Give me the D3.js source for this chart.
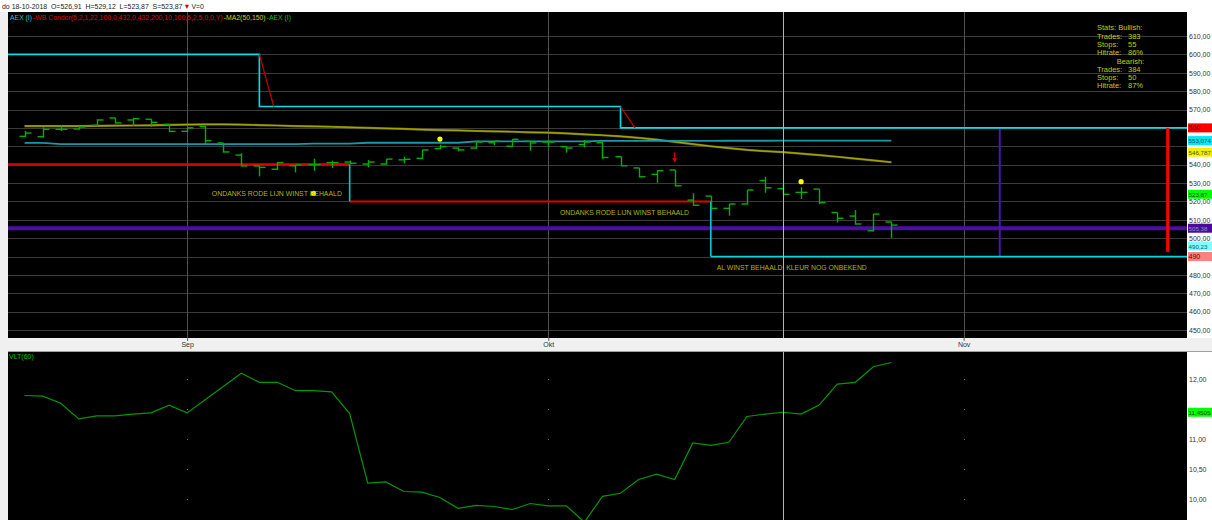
<!DOCTYPE html>
<html><head><meta charset="utf-8">
<script src="https://cdn.jsdelivr.net/npm/d3@7"></script>
<style>
html,body{margin:0;padding:0;background:#f0f0f0;overflow:hidden}
svg{display:block;font-family:"Liberation Sans",Arial,sans-serif}
</style></head><body>
<svg id="c" width="1212" height="520"></svg>
<script>
// ---------- DATA ----------
const dates = ["21-08-2018","22-08-2018","23-08-2018","24-08-2018","27-08-2018","28-08-2018","29-08-2018","30-08-2018","31-08-2018",
"03-09-2018","04-09-2018","05-09-2018","06-09-2018","07-09-2018","10-09-2018","11-09-2018","12-09-2018","13-09-2018","14-09-2018",
"17-09-2018","18-09-2018","19-09-2018","20-09-2018","21-09-2018","24-09-2018","25-09-2018","26-09-2018","27-09-2018","28-09-2018",
"01-10-2018","02-10-2018","03-10-2018","04-10-2018","05-10-2018","08-10-2018","09-10-2018","10-10-2018","11-10-2018","12-10-2018",
"15-10-2018","16-10-2018","17-10-2018","18-10-2018","19-10-2018","22-10-2018","23-10-2018","24-10-2018","25-10-2018","26-10-2018"];
const open  = [555.4,555.2,559.2,559.4,561.4,565.4,564.3,564.7,561.9,558.1,560.7,551.8,545.2,539.3,537.5,539.4,540.0,541.1,541.4,540.3,540.3,542.6,543.4,548.7,549.0,549.0,551.9,550.0,552.7,552.3,549.8,550.9,551.9,544.3,538.2,534.7,537.1,520.7,522.9,516.2,518.6,531.3,526.91,524.9,526.7,513.9,512.0,504.0,508.8];
const high  = [558.3,560.3,561.4,560.9,564.7,565.4,565.5,564.7,561.9,560.0,561.0,551.8,546.2,539.3,541.4,539.8,543.2,542.2,542.2,542.5,543.0,544.3,548.0,550.9,549.4,552.7,553.0,553.8,553.0,553.4,550.1,553.4,552.7,544.3,538.2,537.1,537.1,524.4,522.9,518.6,526.2,533.4,529.12,527.7,526.7,513.9,515.3,513.1,508.8];
const low   = [555.4,555.2,558.7,559.4,561.4,562.7,561.4,561.0,558.1,558.1,551.6,546.9,539.3,534.0,537.5,536.1,537.1,538.5,540.7,538.9,540.3,541.1,543.4,548.7,547.6,549.0,550.9,550.0,548.0,550.0,546.9,549.8,543.6,539.4,533.4,530.5,528.5,517.9,516.2,512.6,518.6,525.1,523.87,521.7,518.9,508.9,507.7,504.0,500.5];
const close = [557.2,559.2,559.2,560.5,564.3,562.7,565.0,563.0,558.1,560.0,553.0,546.9,539.3,538.5,541.1,539.8,540.0,541.1,540.7,541.4,543.0,542.9,548.0,549.8,548.0,552.3,552.7,553.8,551.8,552.3,549.0,552.3,543.9,539.4,533.4,536.7,528.5,517.9,516.2,518.6,526.2,527.4,523.87,524.9,519.3,510.8,507.7,513.1,507.1];
const maSlow = [561.0,561.0,561.0,561.0,561.1,561.2,561.3,561.4,561.6,561.8,561.9,561.9,561.8,561.5,561.3,561.0,560.8,560.6,560.3,560.0,559.7,559.5,559.1,558.8,558.6,558.3,558.1,557.9,557.6,557.4,557.0,556.5,556.0,555.4,554.6,553.6,552.4,551.2,550.0,549.0,548.0,547.3,546.787,546.0,545.2,544.3,543.3,542.3,541.3];
const maFast = [551.8,551.8,551.2,551.2,551.2,551.2,551.2,551.2,551.2,551.2,551.2,551.2,551.2,551.2,551.2,551.2,551.4,551.4,551.4,551.9,551.9,551.9,551.9,551.9,551.9,552.6,552.6,552.6,552.6,552.6,552.6,552.6,552.9,552.9,552.9,552.9,552.9,552.9,552.9,553.0,553.0,553.0,553.074,553.07,553.07,553.07,553.07,553.07,553.07];
const vlt = [11.73,11.72,11.60,11.34,11.39,11.39,11.42,11.44,11.57,11.44,11.66,11.88,12.10,11.95,11.95,11.81,11.81,11.79,11.43,10.27,10.29,10.13,10.12,10.03,9.85,9.90,9.88,9.83,9.93,9.89,9.89,9.62,10.05,10.10,10.33,10.42,10.33,10.94,10.90,10.95,11.38,11.42,11.4505,11.42,11.57,11.92,11.95,12.21,12.28];

const monthLabels = ["Sep","Okt","Nov"];
const monthIdx = [9,29,52];
const priceTicks = [450,460,470,480,490,500,510,520,530,540,550,560,570,580,590,600,610];
const vltTicks = [10,10.5,11,11.5,12];

const upperLevels = [600,571.6,560];
const upperBreaks = [13,33];
const lowerLevels = [540.2,520,490];
const lowerBreaks = [18,38];
const supportLevel = 505.38;
const purpleMarkIdx = 54;
const redBarIdx = 63.3, redBarRange = [560,492.5];

const crossIdx = 42;
const dotIdx = [16,23,43];
const dotPrice = [524.4,553.9,530.7];
const arrowIdx = [36];
const arrowPrice = [540.7];

const noteTexts = ["ONDANKS RODE LIJN WINST BEHAALD","ONDANKS RODE LIJN WINST BEHAALD","AL WINST BEHAALD, KLEUR NOG ONBEKEND"];
const noteIdx = [10.37,29.65,38.33];
const notePrice = [524.7,514.4,484.2];

const valueLabelValues = [560,553.074,546.787,523.87,505.38,490.23,490];
const valueLabelTexts = ["560","553,074","546,787","523,87","505,38","490,23","490"];
const vltLabelValue = 11.4505, vltLabelText = "11,4505";

const statsRows = ["Stats: Bullish:","Trades:","Stops:","Hitrate:","Bearish:","Trades:","Stops:","Hitrate:"];
const statsVals = ["","383","55","86%","","384","50","87%"];

const legendParts = ["AEX (I)","-WB Condor(5,2,1,22,100,0,432,0,432,200,10,100,5,2,5,0,0,Y)","-MA2(50,150)","-AEX (I)"];

// ---------- DRAW ----------
const svg = d3.select("#c");
const L=8, R=1187, T1=12, B1=338, T2=352, B2=520;
const x = d3.scaleLinear().domain([-0.92,64.37]).range([L,R]);
const y = d3.scaleLinear().domain([450,610]).range([330,36]);
const y2 = d3.scaleLinear().domain([10,12]).range([499.3,379.3]);
const fmt2 = v => d3.format(".2f")(v).replace(".",",");
const FONT = "Liberation Sans, Arial, sans-serif";

svg.append("rect").attr("width",1212).attr("height",520).attr("fill","#f0f0f0");
svg.append("rect").attr("width",1212).attr("height",T1).attr("fill","#ffffff");
svg.append("rect").attr("x",R).attr("y",T1).attr("width",1212-R).attr("height",B1-T1).attr("fill","#ffffff");
svg.append("rect").attr("x",R).attr("y",T2).attr("width",1212-R).attr("height",B2-T2).attr("fill","#ffffff");
svg.append("line").attr("x1",L).attr("x2",1212).attr("y1",T2-0.5).attr("y2",T2-0.5).attr("stroke","#a0a0a0");
svg.append("rect").attr("x",L).attr("y",T1).attr("width",R-L).attr("height",B1-T1).attr("fill","#000");
svg.append("rect").attr("x",L).attr("y",T2).attr("width",R-L).attr("height",B2-T2).attr("fill","#000");

const defs = svg.append("defs");
defs.append("clipPath").attr("id","cp1").append("rect").attr("x",L).attr("y",T1).attr("width",R-L).attr("height",B1-T1);
defs.append("clipPath").attr("id","cp2").append("rect").attr("x",L).attr("y",T2).attr("width",R-L).attr("height",B2-T2);
const g1 = svg.append("g").attr("clip-path","url(#cp1)");
const g2 = svg.append("g").attr("clip-path","url(#cp2)");

// grid top
g1.selectAll(".hg").data(priceTicks).join("line")
  .attr("x1",L).attr("x2",R).attr("y1",d=>Math.round(y(d))+0.5).attr("y2",d=>Math.round(y(d))+0.5)
  .attr("stroke","#3a3a3a").attr("stroke-width",1);
g1.selectAll(".vg").data(monthIdx).join("line")
  .attr("x1",d=>Math.round(x(d))+0.5).attr("x2",d=>Math.round(x(d))+0.5).attr("y1",T1).attr("y2",B1)
  .attr("stroke","#505050");
// grid dots lower
monthIdx.forEach(m=>{
  g2.selectAll(null).data(vltTicks).join("rect")
   .attr("x",Math.round(x(m))).attr("y",d=>Math.round(y2(d))).attr("width",1).attr("height",1).attr("fill","#707070");
});
// crosshair
[[T1,B1],[T2,B2]].forEach(r=>svg.append("line").attr("x1",Math.round(x(crossIdx))+0.5).attr("x2",Math.round(x(crossIdx))+0.5)
  .attr("y1",r[0]).attr("y2",r[1]).attr("stroke","#b4b4b4"));

// helper: sequential coloured text parts, condensed horizontally to a target width
function partsRow(x0, yb, parts, colors, size, targetW, gap){
  const g = svg.append("g");
  let cx = 0;
  parts.forEach((t,i)=>{
    const el = g.append("text").attr("x",cx).attr("y",0).attr("font-size",size).attr("fill",colors[i])
      .style("white-space","pre").text(t);
    cx += el.node().getComputedTextLength() + gap;
  });
  const w = cx - gap;
  g.attr("transform",`translate(${x0},${yb}) scale(${targetW/w},1)`);
}

// legend
partsRow(10, 20, legendParts, ["#00c8c8","#e00000","#d0d000","#00c000"], 7.5, 281, 1);

// purple support
g1.append("line").attr("x1",L).attr("x2",R).attr("y1",y(supportLevel)).attr("y2",y(supportLevel))
  .attr("stroke","#4a10a0").attr("stroke-width",4);
g1.append("line").attr("x1",x(purpleMarkIdx)).attr("x2",x(purpleMarkIdx)).attr("y1",y(upperLevels[2])).attr("y2",y(lowerLevels[2]))
  .attr("stroke","#4a18a8").attr("stroke-width",2);

// MAs
const lineGen = d3.line().x((d,i)=>x(i)).y(d=>y(d));
g1.append("path").datum(maSlow).attr("d",lineGen).attr("fill","none").attr("stroke","#7a7a00").attr("stroke-width",2.2);
g1.append("path").datum(maSlow).attr("d",lineGen).attr("fill","none").attr("stroke","#a8a800").attr("stroke-width",1);
g1.append("path").datum(maFast).attr("d",lineGen).attr("fill","none").attr("stroke","#1898a8").attr("stroke-width",1.8);

// upper step (cyan) with red diagonals
const up = [[x.domain()[0],upperLevels[0]],[upperBreaks[0],upperLevels[0]],[upperBreaks[0],upperLevels[1]],
            [upperBreaks[1],upperLevels[1]],[upperBreaks[1],upperLevels[2]],[x.domain()[1],upperLevels[2]]];
g1.append("path").attr("d",d3.line().x(d=>x(d[0])).y(d=>y(d[1]))(up)).attr("fill","none").attr("stroke","#00e0e8").attr("stroke-width",1.6);
upperBreaks.forEach((b,k)=>{
  g1.append("line").attr("x1",x(b)).attr("y1",y(upperLevels[k])).attr("x2",x(b+0.8)).attr("y2",y(upperLevels[k+1]))
    .attr("stroke","#c00000").attr("stroke-width",1.3);
});
// lower step: red horizontals, cyan verticals
const segStarts = [x.domain()[0]].concat(lowerBreaks), segEnds = lowerBreaks.concat([x.domain()[1]]);
lowerLevels.forEach((lv,k)=>{
  g1.append("line").attr("x1",x(segStarts[k])).attr("x2",x(segEnds[k])).attr("y1",y(lv)).attr("y2",y(lv))
    .attr("stroke",k<2?"#e00000":"#00d8e0").attr("stroke-width",k<2?2:1.6);
});
lowerBreaks.forEach((b,k)=>{
  g1.append("line").attr("x1",x(b)).attr("x2",x(b)).attr("y1",y(lowerLevels[k])).attr("y2",y(lowerLevels[k+1]))
    .attr("stroke","#00c8d8").attr("stroke-width",1.6);
});
// red thick bar
g1.append("line").attr("x1",x(redBarIdx)).attr("x2",x(redBarIdx)).attr("y1",y(redBarRange[0])).attr("y2",y(redBarRange[1]))
  .attr("stroke","#ff0000").attr("stroke-width",3);

// notes
const noteW = [130,129,150];
noteTexts.forEach((t,i)=>{
  svg.append("text").attr("x",x(noteIdx[i])).attr("y",y(notePrice[i])+3).attr("font-size",8).attr("fill","#b4b400")
    .attr("textLength",noteW[i]).attr("lengthAdjust","spacingAndGlyphs").text(t);
});

// OHLC bars
const bars = g1.append("g").attr("stroke","#00b000").attr("stroke-width",1.4);
open.forEach((o,i)=>{
  const cx = Math.round(x(i))+0.5;
  bars.append("line").attr("x1",cx).attr("x2",cx).attr("y1",y(high[i])).attr("y2",y(low[i])+0.7);
  bars.append("line").attr("x1",cx-6).attr("x2",cx).attr("y1",y(o)).attr("y2",y(o));
  bars.append("line").attr("x1",cx).attr("x2",cx+6).attr("y1",y(close[i])).attr("y2",y(close[i]));
});
// dots
g1.selectAll(".dot").data(dotIdx).join("circle").attr("cx",d=>x(d)).attr("cy",(d,i)=>y(dotPrice[i])).attr("r",2.6).attr("fill","#ffff00");
// arrows
arrowIdx.forEach((a,i)=>{
  const ax=x(a), ay=y(arrowPrice[i])-1;
  g1.append("line").attr("x1",ax).attr("x2",ax).attr("y1",ay-10).attr("y2",ay-3).attr("stroke","#e00000").attr("stroke-width",1.2);
  g1.append("path").attr("d",`M${ax-2.5},${ay-4}L${ax+2.5},${ay-4}L${ax},${ay}Z`).attr("fill","#e00000");
});

// lower panel line
const l2 = d3.line().x((d,i)=>x(i)).y(d=>y2(d));
g2.append("path").datum(vlt).attr("d",l2).attr("fill","none").attr("stroke","#009800").attr("stroke-width",1.2);
svg.append("text").attr("x",9).attr("y",359).attr("font-size",7).attr("fill","#00c000").text("VLT(60)");

// value labels (top) with collision handling
const vlStyles = [["#ff0000","#500000"],["#00e8f0","#004060"],["#f0f000","#505000"],["#00ff00","#004000"],["#4b0a9a","#9090c8"],["#80ffff","#006070"],["#ff8080","#600000"]];
const vls = valueLabelValues.map((v,i)=>({y:y(v),t:valueLabelTexts[i],s:vlStyles[i]}));
const srt = vls.slice().sort((a,b)=>b.y-a.y);
for(let k=1;k<srt.length;k++){ if(srt[k-1].y-srt[k].y<10.5) srt[k].y=srt[k-1].y-10.5; }

// axes (right)
const axTop = d3.axisRight(y).tickValues(priceTicks.filter(t=>!vls.some(l=>Math.abs(l.y-y(t))<6.2))).tickFormat(fmt2).tickSize(0).tickPadding(2);
const gaT = svg.append("g").attr("transform",`translate(${R},0)`).call(axTop);
const vlY2 = y2(vltLabelValue);
const axLow = d3.axisRight(y2).tickValues(vltTicks.filter(t=>Math.abs(y2(t)-vlY2)>6.2)).tickFormat(fmt2).tickSize(0).tickPadding(2);
const gaL = svg.append("g").attr("transform",`translate(${R},0)`).call(axLow);
[gaT,gaL].forEach(g=>{g.select(".domain").remove(); g.selectAll("text").attr("font-size",7).attr("fill","#333").attr("font-family",FONT);});

function valueLabel(yy, txt, bg, fg){
  svg.append("rect").attr("x",R+1).attr("y",yy-4.5).attr("width",1212-R-1).attr("height",9).attr("fill",bg);
  svg.append("text").attr("x",R+1.5).attr("y",yy+2.5).attr("font-size",txt.length>5?6.2:7).attr("fill",fg).text(txt);
}
vls.forEach(l=>valueLabel(l.y,l.t,l.s[0],l.s[1]));
valueLabel(vlY2, vltLabelText, "#00ff00", "#004000");

// month axis
const axB = d3.axisBottom(x).tickValues(monthIdx).tickFormat((d,i)=>monthLabels[i]).tickSize(3).tickPadding(1);
const gaB = svg.append("g").attr("transform",`translate(0,${B1})`).call(axB);
gaB.select(".domain").remove();
gaB.selectAll("line").attr("stroke","#606060");
gaB.selectAll("text").attr("font-size",7).attr("fill","#333").attr("font-family",FONT);

// stats
statsRows.forEach((t,k)=>{
  const yy = 30.3 + k*8.3;
  svg.append("text").attr("x",k===4?1116.7:1097).attr("y",yy).attr("font-size",7.5).attr("fill","#c8c800").text(t);
  if(statsVals[k]) svg.append("text").attr("x",1128).attr("y",yy).attr("font-size",7.5).attr("fill","#c8c800").text(statsVals[k]);
});

// header
const hi = crossIdx;
partsRow(2, 8.5,
  [`do ${dates[hi]}  O=${fmt2(open[hi])}  H=${fmt2(high[hi])}  L=${fmt2(low[hi])}  S=${fmt2(close[hi])}`, "▼", "V=0"],
  ["#222","#e00000","#222"], 7.5, 202, 1);
</script>
</body></html>
